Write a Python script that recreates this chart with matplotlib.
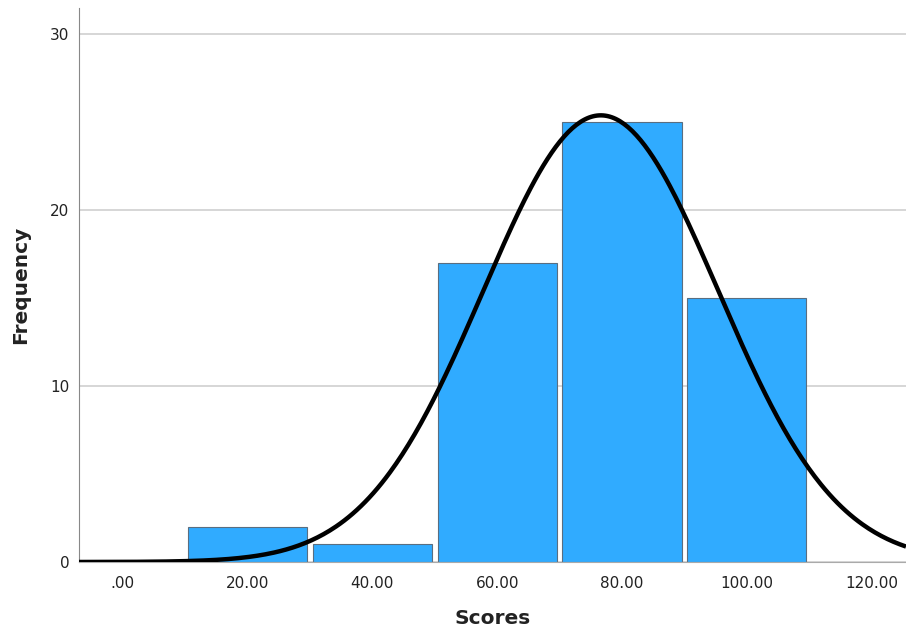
import numpy as np
import matplotlib.pyplot as plt

# histogram of scores with fitted normal curve
bin_centers = [20, 40, 60, 80, 100]
counts = [2, 1, 17, 25, 15]
bin_width = 20
score_mean = 76.6
score_sd = 18.85
n_cases = sum(counts)

x_ticks = [0, 20, 40, 60, 80, 100, 120]
x_labels = [".00", "20.00", "40.00", "60.00", "80.00", "100.00", "120.00"]
y_ticks = [0, 10, 20, 30]

fig = plt.figure(figsize=(9.06, 6.34), dpi=100)
ax = fig.add_axes([79 / 906, 1 - 562 / 634, 1 - 79 / 906, (562 - 8) / 634])

ax.set_axisbelow(True)
ax.yaxis.grid(True, color="#d0d0d0", linewidth=1.2)
ax.bar(bin_centers, counts, width=bin_width * 0.955, color="#30abff",
       edgecolor="#5a6e80", linewidth=0.8, zorder=2)

xs = np.linspace(-7, 125.5, 400)
curve = n_cases * bin_width / (score_sd * np.sqrt(2 * np.pi)) * \
    np.exp(-0.5 * ((xs - score_mean) / score_sd) ** 2)
ax.plot(xs, curve, color="black", linewidth=3.2, zorder=3, solid_capstyle="butt")

ax.set_xlim(-7, 125.5)
ax.set_ylim(0, 31.5)
ax.set_xticks(x_ticks)
ax.set_xticklabels(x_labels)
ax.set_yticks(y_ticks)
ax.tick_params(axis="both", length=0, labelsize=11, colors="#222222")
ax.tick_params(axis="x", pad=10)
ax.tick_params(axis="y", pad=7)

for side in ["top", "right"]:
    ax.spines[side].set_visible(False)
ax.spines["left"].set_color("#888888")
ax.spines["bottom"].set_color("#aaaaaa")

ax.set_xlabel("Scores", fontsize=14.5, fontweight="bold", labelpad=13, color="#222222")
ax.set_ylabel("Frequency", fontsize=14.5, fontweight="bold", labelpad=14, color="#222222")

fig.savefig("out.png", dpi=100)
